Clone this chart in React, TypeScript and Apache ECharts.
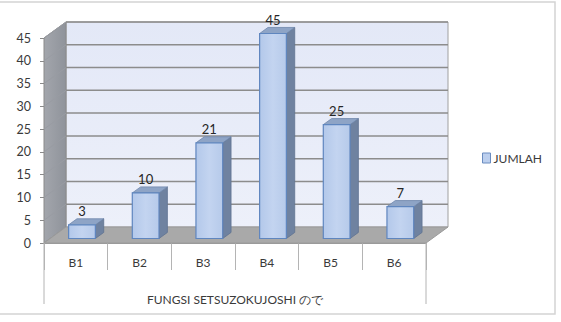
import React, { useEffect, useRef } from "react";
import * as echarts from "echarts";

const categories = ["B1", "B2", "B3", "B4", "B5", "B6"];
const jumlah = [3, 10, 21, 45, 25, 7];
const yTicks = [5, 10, 15, 20, 25, 30, 35, 40, 45];
const seriesName = "JUMLAH";
const axisName = "FUNGSI SETSUZOKUJOSHI ので";

const DX = 22;
const DY = -16;
const FONT = "Lato, 'Open Sans', sans-serif";

export default function App() {
  const ref = useRef<HTMLDivElement>(null);
  useEffect(() => {
    if (!ref.current) return;
    const chart = echarts.init(ref.current, null, { renderer: "svg" });
    const option: any = {
      animation: false,
      backgroundColor: "#ffffff",
      textStyle: { fontFamily: FONT },
      graphic: [
        {
          type: "rect",
          shape: { x: -1, y: 2, width: 556, height: 312 },
          style: { fill: "none", stroke: "#d4d4d4", lineWidth: 1.5 },
          silent: true,
          z: -10,
        },
      ],
      legend: {
        left: 482,
        top: 152,
        padding: 0,
        icon: "rect",
        itemWidth: 8,
        itemHeight: 10,
        itemGap: 4,
        data: [seriesName],
        textStyle: { fontFamily: FONT, fontSize: 12, color: "#3a3a3a", padding: [0, 0, 0, -2] },
        itemStyle: { color: "#bccfee", borderColor: "#6a8cc0", borderWidth: 1 },
      },
      grid: { left: 44, right: 135, top: 38, bottom: 79 },
      xAxis: {
        type: "category",
        data: categories,
        axisLine: { show: true, lineStyle: { color: "#9a9a9a", width: 1 } },
        axisTick: {
          show: true,
          alignWithLabel: false,
          interval: 0,
          length: 27,
          lineStyle: { color: "#b4b4b4" },
        },
        axisLabel: { fontFamily: FONT, fontSize: 12, color: "#3a3a3a", margin: 13 },
        name: axisName,
        nameLocation: "middle",
        nameGap: 50,
        nameTextStyle: { fontFamily: FONT, fontSize: 12, color: "#3a3a3a" },
      },
      yAxis: {
        type: "value",
        min: 0,
        max: 45,
        interval: 5,
        axisLine: { show: true, lineStyle: { color: "#8a8a8a" } },
        axisTick: { show: true, length: 4, lineStyle: { color: "#8a8a8a" } },
        splitLine: { show: false },
        axisLabel: { fontFamily: FONT, fontSize: 12.5, color: "#3a3a3a", margin: 13 },
      },
      series: [
        {
          type: "custom",
          name: "walls",
          silent: true,
          z: 1,
          data: [[0, 0]],
          renderItem: (params: any, api: any) => {
            const cs = params.coordSys;
            const x = cs.x, y = cs.y, w = cs.width, h = cs.height;
            return {
              type: "group",
              children: [
                {
                  type: "rect",
                  shape: { x: x + DX, y: y + DY, width: w, height: h },
                  style: {
                    fill: new echarts.graphic.LinearGradient(0, 0, 0, 1, [
                      { offset: 0, color: "#e3e8f7" },
                      { offset: 1, color: "#edf0fa" },
                    ]),
                    stroke: "#a0a0a0",
                    lineWidth: 1,
                  },
                },
                {
                  type: "polygon",
                  shape: {
                    points: [
                      [x, y],
                      [x + DX, y + DY],
                      [x + DX, y + h + DY],
                      [x, y + h],
                    ],
                  },
                  style: {
                    fill: new echarts.graphic.LinearGradient(0, 0, 1, 0, [
                      { offset: 0, color: "#a3a6ac" },
                      { offset: 1, color: "#8f939b" },
                    ]),
                    stroke: "#8a8a8a",
                    lineWidth: 1,
                  },
                },
                {
                  type: "polygon",
                  shape: {
                    points: [
                      [x, y + h],
                      [x + DX, y + h + DY],
                      [x + w + DX, y + h + DY],
                      [x + w, y + h],
                    ],
                  },
                  style: { fill: "#a9a9a9", stroke: "#9a9a9a", lineWidth: 1 },
                },
                {
                  type: "line",
                  shape: { x1: x, y1: y + h, x2: x, y2: y + h + 61 },
                  style: { stroke: "#b4b4b4", lineWidth: 1 },
                },
                {
                  type: "line",
                  shape: { x1: x + w, y1: y + h, x2: x + w, y2: y + h + 61 },
                  style: { stroke: "#b4b4b4", lineWidth: 1 },
                },
              ],
            };
          },
        },
        {
          type: "custom",
          name: "grid",
          silent: true,
          z: 2,
          data: yTicks.map((v) => [0, v]),
          renderItem: (params: any, api: any) => {
            const cs = params.coordSys;
            const yy = api.coord([0, api.value(1)])[1];
            return {
              type: "group",
              children: [
                {
                  type: "line",
                  shape: { x1: cs.x + DX, y1: yy + DY, x2: cs.x + cs.width + DX, y2: yy + DY },
                  style: { stroke: "#8c8c8c", lineWidth: 1.5 },
                },
                {
                  type: "line",
                  shape: { x1: cs.x, y1: yy, x2: cs.x + DX, y2: yy + DY },
                  style: { stroke: "#999ca3", lineWidth: 1 },
                },
              ],
            };
          },
        },
        {
          type: "custom",
          name: seriesName,
          z: 3,
          itemStyle: { color: "#bccfee", borderColor: "#6a8cc0" },
          data: jumlah.map((v, i) => [i, v]),
          renderItem: (params: any, api: any) => {
            const idx = api.value(0);
            const val = api.value(1);
            const top = api.coord([idx, val]);
            const bot = api.coord([idx, 0]);
            const band = api.size([1, 0])[0];
            const bw = band * 0.42;
            const f1 = 0.28;
            const d = 0.38;
            const ox = f1 * DX, oy = f1 * DY;
            const ddx = d * DX, ddy = d * DY;
            const x = top[0] + ox - bw / 2;
            const yT = top[1] + oy;
            const yB = bot[1] + oy;
            return {
              type: "group",
              children: [
                {
                  type: "polygon",
                  shape: {
                    points: [
                      [x + bw, yT],
                      [x + bw + ddx, yT + ddy],
                      [x + bw + ddx, yB + ddy],
                      [x + bw, yB],
                    ],
                  },
                  style: { fill: "#6f82a0", stroke: "#5f7291", lineWidth: 0.8 },
                },
                {
                  type: "polygon",
                  shape: {
                    points: [
                      [x, yT],
                      [x + ddx, yT + ddy],
                      [x + bw + ddx, yT + ddy],
                      [x + bw, yT],
                    ],
                  },
                  style: { fill: "#8ea4c6", stroke: "#6f86ab", lineWidth: 0.8 },
                },
                {
                  type: "rect",
                  shape: { x: x, y: yT, width: bw, height: yB - yT },
                  style: {
                    fill: new echarts.graphic.LinearGradient(0, 0, 1, 0, [
                      { offset: 0, color: "#b3c8ea" },
                      { offset: 0.5, color: "#c3d4f0" },
                      { offset: 1, color: "#b6caea" },
                    ]),
                    stroke: "#5f86bf",
                    lineWidth: 1.2,
                  },
                },
                {
                  type: "text",
                  style: {
                    text: String(val),
                    x: x + bw / 2,
                    y: yT - 14,
                    align: "center",
                    verticalAlign: "middle",
                    fill: "#262626",
                    fontSize: 13,
                    fontFamily: FONT,
                  },
                },
              ],
            };
          },
        },
      ],
    };
    chart.setOption(option);
    return () => chart.dispose();
  }, []);
  return (
    <div
      ref={ref}
      style={{ position: "fixed", left: 0, top: 0, width: 561, height: 322 }}
    />
  );
}
